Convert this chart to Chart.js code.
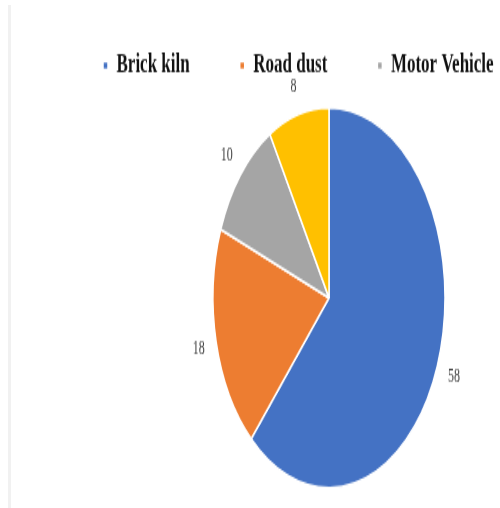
<!DOCTYPE html>
<html lang="en">
<head>
    <meta charset="UTF-8">
    <title>Source share</title>
    <script src="https://cdn.jsdelivr.net/npm/chart.js"></script>
    <style>
        body {
            margin: 0;
            background-color: #ffffff;
        }
        #frame {
            position: relative;
            width: 500px;
            height: 508px;
            overflow: hidden;
        }
        #edge {
            position: absolute;
            left: 8px;
            top: 5px;
            width: 3px;
            height: 503px;
            background-color: #f1f1f1;
        }
        /* the picture is squeezed vertically, so the chart is drawn flat and stretched */
        #box {
            position: absolute;
            left: 0;
            top: 0;
            width: 605px;
            height: 310px;
            transform: scaleY(1.6387);
            transform-origin: 0 0;
        }
    </style>
</head>
<body>
    <div id="frame">
        <div id="edge"></div>
        <div id="box"><canvas id="pieChart"></canvas></div>
    </div>

    <script>
        const sources = ['Brick kiln', 'Road dust', 'Motor Vehicle', 'Others'];
        const shares = [58, 18, 10, 8];
        const sliceColors = ['#4472C4', '#ED7D31', '#A5A5A5', '#FFC000'];

        // value labels just outside each slice
        const outsideLabels = {
            id: 'outsideLabels',
            afterDatasetsDraw(chart) {
                const ctx = chart.ctx;
                const meta = chart.getDatasetMeta(0);
                ctx.save();
                ctx.font = '12px "Liberation Serif", serif';
                ctx.fillStyle = '#404040';
                ctx.textAlign = 'center';
                ctx.textBaseline = 'middle';
                meta.data.forEach((arc, i) => {
                    const p = arc.getProps(['x', 'y', 'startAngle', 'endAngle', 'outerRadius'], true);
                    const mid = (p.startAngle + p.endAngle) / 2;
                    const r = p.outerRadius + 18;
                    ctx.fillText(String(shares[i]), p.x + Math.cos(mid) * r, p.y + Math.sin(mid) * r);
                });
                ctx.restore();
            }
        };

        new Chart(document.getElementById('pieChart'), {
            type: 'pie',
            data: {
                labels: sources,
                datasets: [{
                    data: shares,
                    backgroundColor: sliceColors,
                    borderColor: '#ffffff',
                    borderWidth: 1.5,
                    radius: 116
                }]
            },
            options: {
                responsive: true,
                maintainAspectRatio: false,
                animation: false,
                devicePixelRatio: 1,
                layout: { padding: { left: 53, right: 0, top: -18.5, bottom: 5 } },
                plugins: {
                    legend: {
                        position: 'top',
                        align: 'start',
                        labels: {
                            boxWidth: 5,
                            boxHeight: 5,
                            padding: 50,
                            color: '#111111',
                            font: { family: '"Liberation Serif", serif', size: 17, weight: 'bold' },
                            filter: (item) => item.index < 3
                        }
                    },
                    tooltip: { enabled: false }
                }
            },
            plugins: [outsideLabels]
        });
    </script>
</body>
</html>
